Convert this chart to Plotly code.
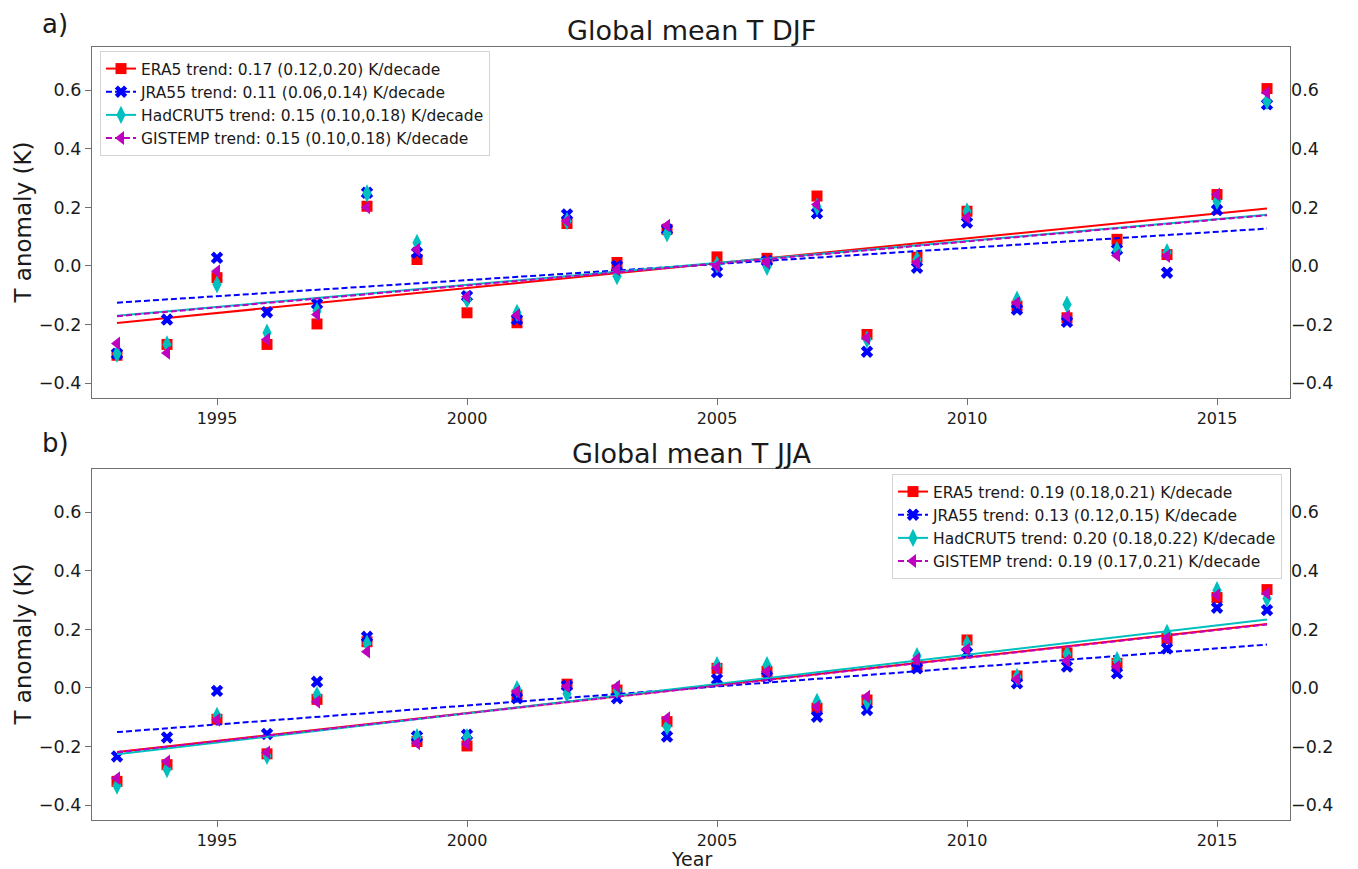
import numpy as np
import plotly.graph_objects as go

# ---- data -------------------------------------------------------------
years = list(range(1993, 2017))
datasets = ["ERA5", "JRA55", "HadCRUT5", "GISTEMP"]

# DJF global-mean temperature anomalies (K)
djf_era5 = [-0.305, -0.268, -0.040, -0.268, -0.198, 0.204, 0.022, -0.160, -0.194, 0.145, 0.012, 0.125,
            0.031, 0.026, 0.239, -0.234, 0.030, 0.187, -0.137, -0.177, 0.091, 0.039, 0.244, 0.606]
djf_jra55 = [-0.300, -0.183, 0.028, -0.158, -0.129, 0.250, 0.045, -0.103, -0.183, 0.176, 0.000, 0.125,
             -0.021, 0.017, 0.180, -0.293, -0.006, 0.148, -0.149, -0.191, 0.056, -0.023, 0.191, 0.552]
djf_hadcrut5 = [-0.300, -0.268, -0.063, -0.228, -0.154, 0.248, 0.079, -0.115, -0.160, 0.153, -0.035, 0.111,
                0.005, -0.003, 0.202, -0.251, 0.022, 0.187, -0.115, -0.132, 0.054, 0.047, 0.222, 0.563]
djf_gistemp = [-0.265, -0.297, -0.018, -0.251, -0.166, 0.200, 0.056, -0.105, -0.168, 0.153, -0.012, 0.138,
               0.000, 0.011, 0.210, -0.246, 0.011, 0.165, -0.126, -0.172, 0.036, 0.034, 0.244, 0.592]

# JJA global-mean temperature anomalies (K)
jja_era5 = [-0.319, -0.262, -0.107, -0.225, -0.039, 0.158, -0.183, -0.198, -0.024, 0.013, -0.007, -0.115,
            0.067, 0.056, -0.069, -0.041, 0.073, 0.164, 0.041, 0.120, 0.084, 0.169, 0.309, 0.336]
jja_jra55 = [-0.234, -0.169, -0.010, -0.157, 0.021, 0.175, -0.166, -0.160, -0.035, 0.008, -0.035, -0.166,
             0.030, 0.039, -0.098, -0.075, 0.067, 0.120, 0.016, 0.073, 0.050, 0.135, 0.274, 0.266]
jja_hadcrut5 = [-0.334, -0.277, -0.095, -0.232, -0.024, 0.152, -0.168, -0.168, -0.004, -0.020, -0.007, -0.132,
                0.078, 0.078, -0.047, -0.047, 0.109, 0.152, 0.038, 0.116, 0.095, 0.188, 0.334, 0.306]
jja_gistemp = [-0.308, -0.251, -0.109, -0.220, -0.047, 0.124, -0.189, -0.191, -0.013, 0.005, 0.005, -0.103,
               0.067, 0.056, -0.064, -0.030, 0.098, 0.132, 0.030, 0.093, 0.073, 0.169, 0.317, 0.323]

# linear trends with confidence ranges (K/decade)
djf_trend = [0.17, 0.11, 0.15, 0.15]
djf_trend_lo = [0.12, 0.06, 0.10, 0.10]
djf_trend_hi = [0.20, 0.14, 0.18, 0.18]
jja_trend = [0.19, 0.13, 0.20, 0.19]
jja_trend_lo = [0.18, 0.12, 0.18, 0.17]
jja_trend_hi = [0.21, 0.15, 0.22, 0.21]

year_ticks = [1995, 2000, 2005, 2010, 2015]
anom_ticks = [-0.4, -0.2, 0.0, 0.2, 0.4, 0.6]

# ---- styling ----------------------------------------------------------
colors = ["#ff0000", "#0000ff", "#00bfbf", "#bf00bf"]
symbols = ["square", "x", "diamond-tall", "triangle-left"]
msizes = [11, 11, 13, 12]
dashes = ["solid", "6px,3px", "solid", "6px,3px"]
FONT = "DejaVu Sans"
TXT = "#1a1a1a"
FRAME = "#707070"

W, H = 1358, 869
x_dom = [92 / W, 1290 / W]
panels = [
    dict(vals=[djf_era5, djf_jra55, djf_hadcrut5, djf_gistemp], tr=djf_trend, lo=djf_trend_lo, hi=djf_trend_hi,
         xa="x", ya="y", yr="y3", dom=[1 - 398 / H, 1 - 47 / H], legend="legend",
         title="Global mean T DJF", tag="a)", title_y=31, tag_y=24),
    dict(vals=[jja_era5, jja_jra55, jja_hadcrut5, jja_gistemp], tr=jja_trend, lo=jja_trend_lo, hi=jja_trend_hi,
         xa="x2", ya="y2", yr="y4", dom=[1 - 820 / H, 1 - 469 / H], legend="legend2",
         title="Global mean T JJA", tag="b)", title_y=453, tag_y=443),
]

fig = go.Figure()
yrs = np.array(years, dtype=float)

for p in panels:
    for i, name in enumerate(datasets):
        v = np.array(p["vals"][i])
        slope = p["tr"][i] / 10.0
        trend = v.mean() + slope * (yrs - yrs.mean())
        # observed anomalies
        fig.add_trace(go.Scatter(
            x=years, y=v, mode="markers", xaxis=p["xa"], yaxis=p["ya"], showlegend=False,
            marker=dict(symbol=symbols[i], size=msizes[i], color=colors[i], line=dict(width=0)),
            hoverinfo="x+y"))
        # fitted linear trend
        fig.add_trace(go.Scatter(
            x=years, y=trend, mode="lines", xaxis=p["xa"], yaxis=p["ya"], showlegend=False,
            line=dict(color=colors[i], width=2, dash=dashes[i]), hoverinfo="skip"))
        # legend entry (line + marker); lives on the right-hand twin axis
        label = f"{name} trend: {p['tr'][i]:.2f} ({p['lo'][i]:.2f},{p['hi'][i]:.2f}) K/decade"
        fig.add_trace(go.Scatter(
            x=[None], y=[None], mode="lines+markers", xaxis=p["xa"], yaxis=p["yr"], name=label,
            legend=p["legend"],
            line=dict(color=colors[i], width=2, dash=dashes[i]),
            marker=dict(symbol=symbols[i], size=msizes[i], color=colors[i], line=dict(width=0))))

xrange = [1992.5, 2016.46]
yrange = [-0.451, 0.748]

common_x = dict(range=xrange, tickvals=year_ticks, ticks="outside", ticklen=6, tickcolor=FRAME,
                showline=True, linecolor=FRAME, linewidth=1.3, mirror=True, showgrid=False,
                zeroline=False, domain=x_dom, tickfont=dict(family=FONT, size=16, color=TXT))
common_y = dict(range=yrange, tickvals=anom_ticks, tickformat=".1f", ticks="outside", ticklen=6,
                tickcolor=FRAME, showline=True, linecolor=FRAME, linewidth=1.3, mirror=True,
                showgrid=False, zeroline=False, tickfont=dict(family=FONT, size=17.5, color=TXT))
right_y = dict(range=yrange, tickvals=anom_ticks, tickformat=".1f", ticks="", showline=False,
               showgrid=False, zeroline=False, side="right", tickfont=dict(family=FONT, size=17.5, color=TXT))

legend_style = dict(bgcolor="rgba(255,255,255,0.85)", bordercolor="#d4d4d4", borderwidth=1,
                    font=dict(family=FONT, size=15.5, color=TXT), tracegroupgap=0, itemwidth=30)

fig.update_layout(
    width=W, height=H, margin=dict(l=0, r=0, t=0, b=0),
    plot_bgcolor="white", paper_bgcolor="white",
    font=dict(family=FONT, color=TXT),
    xaxis=dict(common_x, anchor="y"),
    yaxis=dict(common_y, anchor="x", domain=panels[0]["dom"]),
    yaxis3=dict(right_y, overlaying="y", anchor="x"),
    xaxis2=dict(common_x, anchor="y2"),
    yaxis2=dict(common_y, anchor="x2", domain=panels[1]["dom"]),
    yaxis4=dict(right_y, overlaying="y2", anchor="x2"),
    legend=dict(legend_style, x=100 / W, y=1 - 51 / H, xanchor="left", yanchor="top"),
    legend2=dict(legend_style, x=1282 / W, y=1 - 474 / H, xanchor="right", yanchor="top"),
    showlegend=True,
)

annotations = []
for p in panels:
    annotations.append(dict(text=p["title"], x=(x_dom[0] + x_dom[1]) / 2, y=1 - p["title_y"] / H,
                            xref="paper", yref="paper", showarrow=False, xanchor="center", yanchor="middle",
                            font=dict(family=FONT, size=27, color=TXT)))
    annotations.append(dict(text=p["tag"], x=40 / W, y=1 - p["tag_y"] / H, xref="paper", yref="paper",
                            showarrow=False, xanchor="left", yanchor="middle",
                            font=dict(family=FONT, size=26, color=TXT)))
    annotations.append(dict(text="T anomaly (K)", x=22 / W, y=(p["dom"][0] + p["dom"][1]) / 2,
                            xref="paper", yref="paper", showarrow=False, textangle=-90,
                            xanchor="center", yanchor="middle", font=dict(family=FONT, size=23, color=TXT)))
annotations.append(dict(text="Year", x=(x_dom[0] + x_dom[1]) / 2, y=1 - 859 / H, xref="paper", yref="paper",
                        showarrow=False, xanchor="center", yanchor="middle",
                        font=dict(family=FONT, size=19, color=TXT)))
fig.update_layout(annotations=annotations)

fig.write_html("out.html")
